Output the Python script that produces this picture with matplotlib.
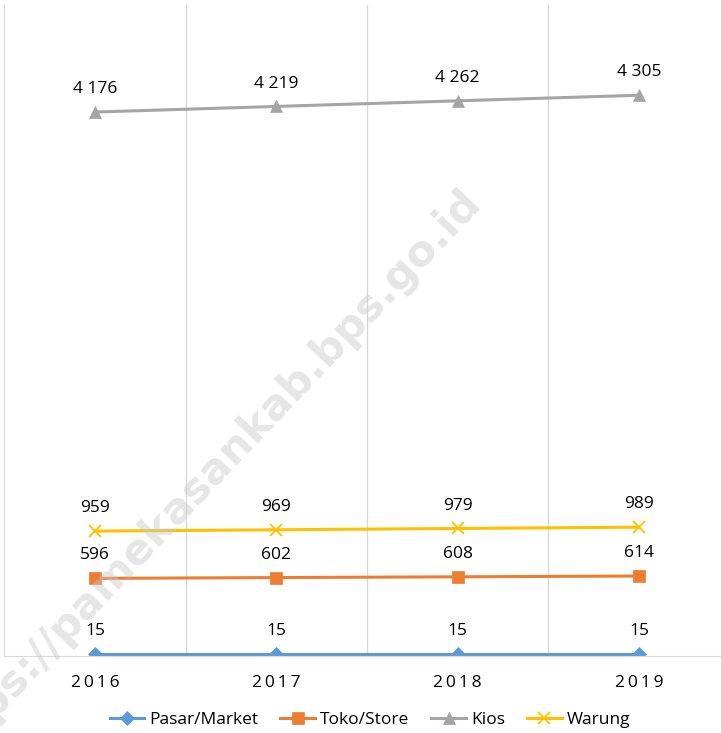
import matplotlib.pyplot as plt

## Data ##
years = ['2016', '2017', '2018', '2019']
pasar = [15, 15, 15, 15]
toko = [596, 602, 608, 614]
kios = [4176, 4219, 4262, 4305]
warung = [959, 969, 979, 989]

series_names = ['Pasar/Market', 'Toko/Store', 'Kios', 'Warung']
colors = ['#5B9BD5', '#ED7D31', '#A5A5A5', '#FFC000']
markers = ['D', 's', '^', 'x']
marker_sizes = [7, 8, 8, 8]

plt.rcParams['font.family'] = ['Open Sans', 'DejaVu Sans']

fig = plt.figure(figsize=(7.21, 7.33), dpi=100)
ax = fig.add_axes([4.3 / 721, 1 - 656 / 733, (729.7 - 4.3) / 721, (656 - 4.7) / 733])

x = list(range(len(years)))
for vals, name, c, m, ms in zip([pasar, toko, kios, warung], series_names,
                                colors, markers, marker_sizes):
    ax.plot(x, vals, color=c, linewidth=2.2, marker=m, markersize=ms,
            markeredgewidth=1.3 if m == 'x' else 0.5, label=name)
    for xi, v in zip(x, vals):
        label = f'{v:,}'.replace(',', ' ')
        ax.annotate(label, (xi, v), xytext=(0, 16.5), textcoords='offset points',
                    ha='center', va='center', fontsize=12.5, color='#000000')

## Axes styling ##
ax.set_xlim(-0.5, 3.5)
ax.set_ylim(0, 5000)
ax.set_xticks(x)
ax.set_xticklabels([' '.join(list(y)).replace(' ', '\u2009') for y in years], fontsize=12.5)
ax.set_xticks([0.5, 1.5, 2.5], minor=True)
ax.tick_params(axis='x', which='both', length=0, pad=14)
ax.set_yticks([])
ax.grid(axis='x', which='minor', color='#D9D9D9', linewidth=1)
for side in ['top', 'right']:
    ax.spines[side].set_visible(False)
ax.spines['left'].set_color('#D9D9D9')
ax.spines['bottom'].set_color('#D9D9D9')

## Watermark (cut off at the left edge, as in the original) ##
fig.text(204 / 721, 1 - 479 / 733, 'https://pamekasankab.bps.go.id', rotation=46.5,
         ha='center', va='center', fontsize=31, fontweight='bold', color='#C8C8C8',
         alpha=0.45, family='DejaVu Sans', rotation_mode='anchor')

fig.legend(loc='center', bbox_to_anchor=(370 / 721, 1 - 720 / 733), ncol=4,
           frameon=False, fontsize=12.5, handlelength=2.0, columnspacing=1.25,
           handletextpad=0.3)

fig.savefig('out.png', dpi=100)
